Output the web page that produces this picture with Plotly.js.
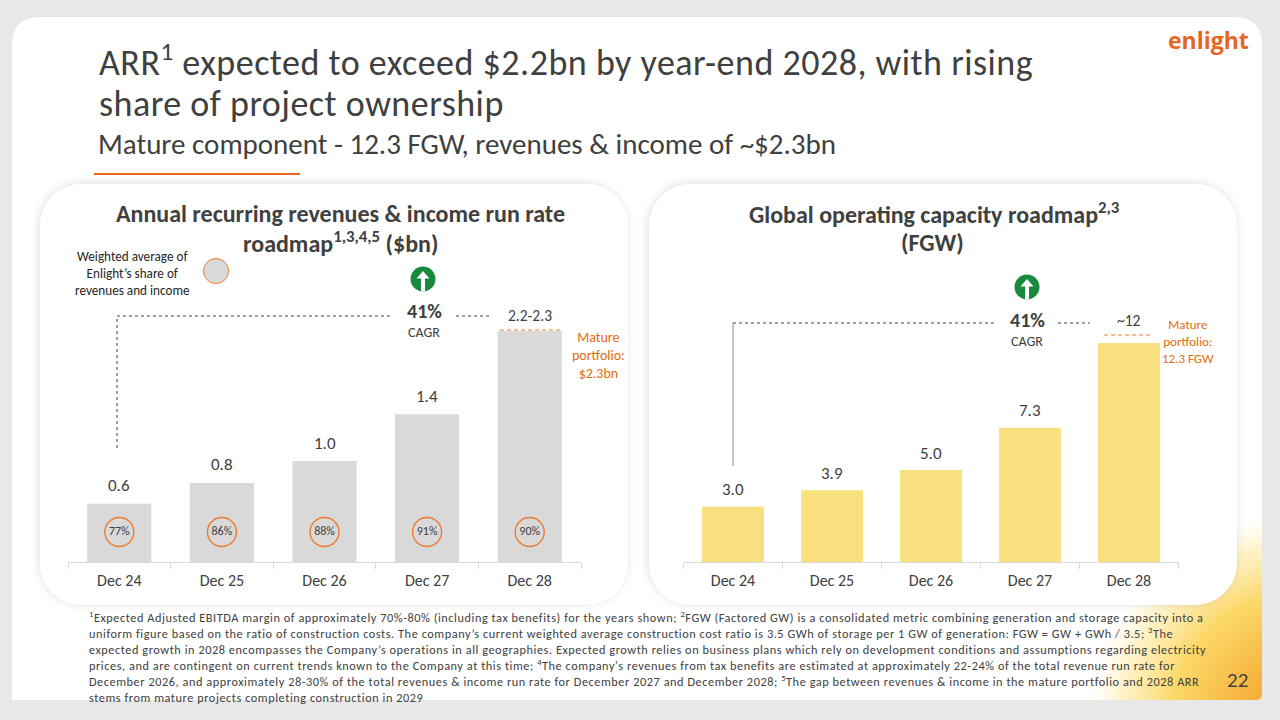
<!DOCTYPE html>
<html>
<head>
<meta charset="utf-8">
<script src="https://cdn.plot.ly/plotly-3.0.1.min.js"></script>
<style>
html,body{margin:0;padding:0;background:#e8e8e8;}
#chart{width:1280px;height:720px;}
text.annotation-text[data-unformatted*="EBITDA"]{letter-spacing:0.55px;}
text.annotation-text[data-unformatted*="expected to exceed"],
text.annotation-text[data-unformatted*="project ownership"]{letter-spacing:0.5px;}
</style>
</head>
<body>
<div id="chart"></div>
<script>
// ---------- data ----------
const categories = ['Dec 24', 'Dec 25', 'Dec 26', 'Dec 27', 'Dec 28'];
const arrValues = [0.56, 0.76, 0.97, 1.42, 2.22];
const arrLabels = ['0.6', '0.8', '1.0', '1.4', '2.2-2.3'];
const ownershipShare = [77, 86, 88, 91, 90];
const capacityValues = [3.0, 3.9, 5.0, 7.3, 11.9];
const capacityLabels = ['3.0', '3.9', '5.0', '7.3', '~12'];

// ---------- helpers ----------
const W = 1280, H = 720;
const X = p => p / W;
const Y = p => 1 - p / H;
const FONT = "Carlito, 'Liberation Sans Narrow', 'DejaVu Sans Condensed', 'Open Sans', sans-serif";
const TXT = '#404040';
const ORANGE = '#e8651f';
const MATURE = '#e46c0a';

const plotTop = 300, plotBottom = 562;
const leftRangeMax = (plotBottom - plotTop) / 104;
const rightRangeMax = (plotBottom - plotTop) / 18.4;
const shareMarkY = leftRangeMax * 30 / (plotBottom - plotTop);

// ---------- background svg (slide panel, cards, glow) ----------
function card(x0, y0, x1, y1, r) {
  return `<rect x="${x0}" y="${y0}" width="${x1 - x0}" height="${y1 - y0}" rx="${r}" ry="${r}" fill="#ffffff" filter="url(#sh)"/>`;
}
const bgSvg = `<svg xmlns="http://www.w3.org/2000/svg" width="1280" height="720" viewBox="0 0 1280 720">
<defs>
<radialGradient id="glow" gradientUnits="userSpaceOnUse" cx="1295" cy="720" r="215">
<stop offset="0" stop-color="#f39a30"/>
<stop offset="0.3" stop-color="#f7b943"/>
<stop offset="0.58" stop-color="#fcd869"/>
<stop offset="0.82" stop-color="#feeeb4" stop-opacity="0.7"/>
<stop offset="1" stop-color="#ffffff" stop-opacity="0"/>
</radialGradient>
<clipPath id="pc"><path d="M12,45 Q12,17 40,17 L1234,17 Q1262,17 1262,45 L1262,694 Q1262,700 1256,700 L12,700 Z"/></clipPath>
<filter id="sh" x="-10%" y="-10%" width="120%" height="120%">
<feDropShadow dx="-1" dy="-1" stdDeviation="4" flood-color="#000" flood-opacity="0.13"/>
</filter>
</defs>
<rect width="1280" height="720" fill="#e8e8e8"/>
<path d="M12,45 Q12,17 40,17 L1234,17 Q1262,17 1262,45 L1262,694 Q1262,700 1256,700 L12,700 Z" fill="#ffffff"/>
<g clip-path="url(#pc)"><rect x="1000" y="450" width="280" height="270" fill="url(#glow)"/></g>
${card(40, 184, 628, 605, 42)}
${card(649, 184, 1237, 605, 42)}
</svg>`;
const bgSource = 'data:image/svg+xml;charset=utf-8,' + encodeURIComponent(bgSvg);

// ---------- traces ----------
const traces = [
  {
    type: 'bar', x: categories, y: arrValues, xaxis: 'x', yaxis: 'y',
    marker: {color: '#d9d9d9'}, hoverinfo: 'skip'
  },
  {
    type: 'scatter', mode: 'markers+text', x: categories,
    y: categories.map(() => shareMarkY), xaxis: 'x', yaxis: 'y',
    text: ownershipShare.map(v => v + '%'), textposition: 'middle center',
    textfont: {family: FONT, size: 12, color: TXT},
    marker: {symbol: 'circle', size: 29, color: 'rgba(0,0,0,0)', line: {color: '#ed7d31', width: 1.4}},
    hoverinfo: 'skip', cliponaxis: false
  },
  {
    type: 'bar', x: categories, y: capacityValues, xaxis: 'x2', yaxis: 'y2',
    marker: {color: '#f9e07f'}, hoverinfo: 'skip'
  }
];

// ---------- annotations ----------
const ann = [];
function txt(text, x, y, size, opts) {
  ann.push(Object.assign({
    text: text, x: X(x), y: Y(y), xref: 'paper', yref: 'paper',
    xanchor: 'center', yanchor: 'middle', showarrow: false,
    font: {family: FONT, size: size, color: TXT}
  }, opts || {}));
}
// slide titles
txt('ARR<sup>1</sup> expected to exceed $2.2bn by year-end 2028, with rising', 97, 60, 36, {xanchor: 'left'});
txt('share of project ownership', 97, 104, 36, {xanchor: 'left'});
txt('Mature component - 12.3 FGW, revenues &amp; income of ~$2.3bn', 96, 144, 29, {xanchor: 'left'});
// logo
txt('<b>enlight</b>', 1208, 40, 23, {font: {family: "'Open Sans', sans-serif", size: 23, color: ORANGE}});
// chart titles
txt('<b>Annual recurring revenues &amp; income run rate</b>', 340, 213, 24);
txt('<b>roadmap<sup>1,3,4,5</sup> ($bn)</b>', 340, 242, 24);
txt('<b>Global operating capacity roadmap<sup>2,3</sup></b>', 934, 213, 24);
txt('<b>(FGW)</b>', 932, 242, 24);
// legend
txt('Weighted average of<br>Enlight’s share of<br>revenues and income', 132, 273, 13.2, {font: {family: FONT, size: 13.2, color: '#262626'}});
// CAGR
txt('<b>41%</b>', 424, 311, 20);
txt('CAGR', 424, 332, 14);
txt('<b>41%</b>', 1027, 320, 20);
txt('CAGR', 1027, 341, 14);
// mature portfolio
txt('Mature<br>portfolio:<br>$2.3bn', 598, 355, 14, {font: {family: FONT, size: 14, color: MATURE}});
txt('Mature<br>portfolio:<br>12.3 FGW', 1188, 341, 13, {font: {family: FONT, size: 13, color: MATURE}});
// bar value labels
categories.forEach((c, i) => {
  const last = i === categories.length - 1;
  ann.push({text: arrLabels[i], x: c, y: arrValues[i], xref: 'x', yref: 'y',
    xanchor: 'center', yanchor: 'middle', yshift: last ? 16 : 18, showarrow: false,
    font: {family: FONT, size: last ? 15.5 : 17, color: TXT}});
  ann.push({text: capacityLabels[i], x: c, y: capacityValues[i], xref: 'x2', yref: 'y2',
    xanchor: 'center', yanchor: 'middle', yshift: last ? 23 : 17, showarrow: false,
    font: {family: FONT, size: last ? 15.5 : 17, color: TXT}});
});
// footnotes (one block)
const footnotes = [
  '<sup>1</sup>Expected Adjusted EBITDA margin of approximately 70%-80% (including tax benefits) for the years shown; <sup>2</sup>FGW (Factored GW) is a consolidated metric combining generation and storage capacity into a',
  'uniform figure based on the ratio of construction costs. The company’s current weighted average construction cost ratio is 3.5 GWh of storage per 1 GW of generation: FGW = GW + GWh / 3.5; <sup>3</sup>The',
  'expected growth in 2028 encompasses the Company’s operations in all geographies. Expected growth relies on business plans which rely on development conditions and assumptions regarding electricity',
  'prices, and are contingent on current trends known to the Company at this time; <sup>4</sup>The company\'s revenues from tax benefits are estimated at approximately 22-24% of the total revenue run rate for',
  'December 2026, and approximately 28-30% of the total revenues &amp; income run rate for December 2027 and December 2028; <sup>5</sup>The gap between revenues &amp; income in the mature portfolio and 2028 ARR',
  'stems from mature projects completing construction in 2029'
];
ann.push({text: footnotes.join('<br>'), x: X(88), y: Y(608), xref: 'paper', yref: 'paper',
  xanchor: 'left', yanchor: 'top', align: 'left', showarrow: false, borderpad: 0,
  font: {family: FONT, size: 12.3, color: '#404040'}});
// page number
txt('22', 1237, 680, 21);

// ---------- shapes ----------
const shapes = [];
function line(x0, y0, x1, y1, color, dash, width) {
  shapes.push({type: 'line', xref: 'paper', yref: 'paper', x0: X(x0), y0: Y(y0), x1: X(x1), y1: Y(y1),
    line: {color: color, dash: dash || 'solid', width: width || 1}});
}
function circle(cx, cy, r, fill, lineColor, lw) {
  shapes.push({type: 'circle', xref: 'paper', yref: 'paper', x0: X(cx - r), y0: Y(cy + r), x1: X(cx + r), y1: Y(cy - r),
    fillcolor: fill, line: {color: lineColor || fill, width: lw === undefined ? 0 : lw}});
}
function arrowIcon(cx, cy) {
  circle(cx, cy, 12.5, '#178a3c');
  const pts = [[cx - 6.5, cy - 0.5], [cx, cy - 8], [cx + 6.5, cy - 0.5], [cx + 2, cy - 0.5], [cx + 2, cy + 12.5], [cx - 2, cy + 12.5], [cx - 2, cy - 0.5]];
  const d = 'M' + pts.map(p => X(p[0]) + ',' + Y(p[1])).join(' L') + ' Z';
  shapes.push({type: 'path', xref: 'paper', yref: 'paper', path: d, fillcolor: '#ffffff', line: {width: 0}});
}
// orange underline
line(94, 174, 300, 174, ORANGE, 'solid', 2);
// legend circle
circle(216, 271, 12.5, '#d9d9d9', '#ed7d31', 1);
// CAGR icons
arrowIcon(423, 279);
arrowIcon(1027, 287);
// left connectors (dotted)
line(117, 448, 117, 316, '#404040', 'dot', 1);
line(117, 316, 393, 316, '#404040', 'dot', 1);
line(456, 316, 491, 316, '#404040', 'dot', 1);
line(500, 330, 561, 330, '#ed7d31', '4px,3px', 1.2);
// right connectors
line(733, 466, 733, 323, '#8c8c8c', 'solid', 1);
line(733, 323, 995, 323, '#404040', 'dot', 1);
line(1058, 323, 1090, 323, '#404040', 'dot', 1);
line(1104, 335, 1153, 335, '#ed7d31', '4px,3px', 1.2);

// ---------- layout ----------
const xaxisBase = {
  type: 'category', showline: true, linecolor: '#d9d9d9', linewidth: 1,
  ticks: 'outside', ticklen: 6, tickcolor: '#d9d9d9', tickson: 'boundaries', ticklabelstandoff: 4,
  tickfont: {family: FONT, size: 16, color: TXT}, showgrid: false, zeroline: false, fixedrange: true
};
const yDomain = [1 - plotBottom / H, 1 - plotTop / H];
const layout = {
  width: W, height: H, margin: {l: 0, r: 0, t: 0, b: 0},
  paper_bgcolor: '#e8e8e8', plot_bgcolor: 'rgba(0,0,0,0)',
  showlegend: false, bargap: 0.375,
  font: {family: FONT, color: TXT},
  xaxis: Object.assign({}, xaxisBase, {domain: [X(68), X(581)], anchor: 'y'}),
  yaxis: {domain: yDomain, range: [0, leftRangeMax], visible: false, fixedrange: true, anchor: 'x'},
  xaxis2: Object.assign({}, xaxisBase, {domain: [X(683.5), X(1178.5)], anchor: 'y2'}),
  yaxis2: {domain: yDomain, range: [0, rightRangeMax], visible: false, fixedrange: true, anchor: 'x2'},
  images: [{source: bgSource, xref: 'paper', yref: 'paper', x: 0, y: 1, sizex: 1, sizey: 1,
    xanchor: 'left', yanchor: 'top', sizing: 'stretch', layer: 'below'}],
  shapes: shapes,
  annotations: ann
};

Plotly.newPlot('chart', traces, layout, {displayModeBar: false, staticPlot: true});
</script>
</body>
</html>
